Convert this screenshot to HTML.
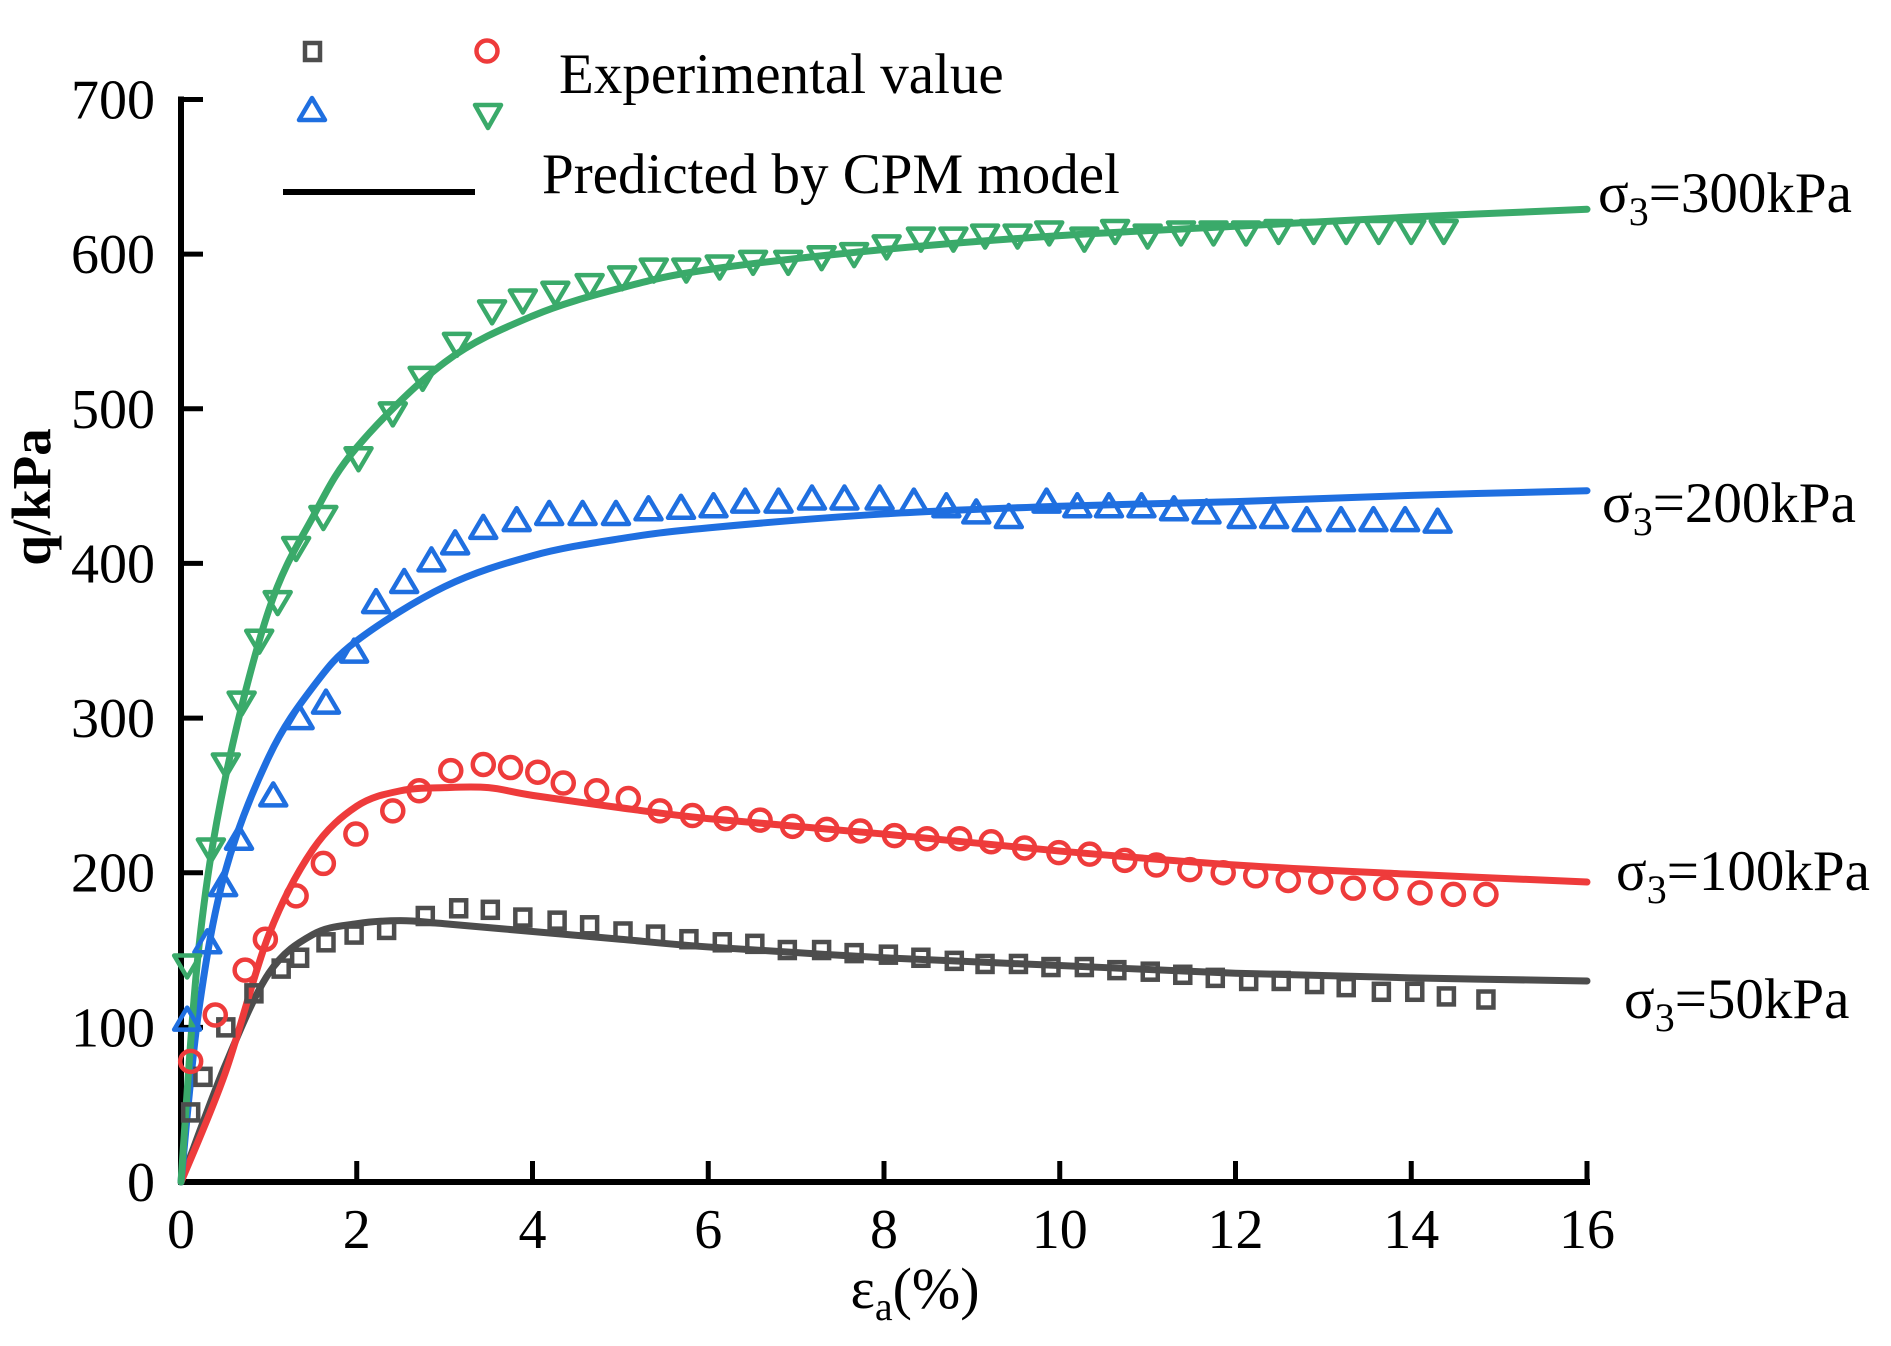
<!DOCTYPE html>
<html><head><meta charset="utf-8"><style>
html,body{margin:0;padding:0;background:#fff;}
svg{display:block;font-family:"Liberation Serif",serif;}
</style></head><body>
<svg id="chart" width="1891" height="1346" viewBox="0 0 1891 1346" xmlns="http://www.w3.org/2000/svg">
<g id="axes"></g>
<g id="series"></g>
<g id="legend">
  <rect x="305" y="43" width="15" height="17" fill="none" stroke="#4d4d4d" stroke-width="4.5"/>
  <ellipse cx="487" cy="51" rx="10.5" ry="10.5" fill="none" stroke="#ee3b3b" stroke-width="4.5"/>
  <path d="M312,98 L325,120 L299,120 Z" fill="none" stroke="#1f6fe0" stroke-width="4.5" stroke-linejoin="round"/>
  <path d="M475,105 L501,105 L488,128 Z" fill="none" stroke="#3aaa6a" stroke-width="4.5" stroke-linejoin="round"/>
  <text x="559" y="93" font-size="57">Experimental value</text>
  <line x1="283" y1="192" x2="475" y2="192" stroke="#000" stroke-width="6"/>
  <text x="542" y="193" font-size="57">Predicted by CPM model</text>
</g>
<g id="labels">
  <text x="1598" y="212" font-size="57">σ<tspan font-size="40" dy="13">3</tspan><tspan dy="-13">=300kPa</tspan></text>
  <text x="1602" y="522" font-size="57">σ<tspan font-size="40" dy="13">3</tspan><tspan dy="-13">=200kPa</tspan></text>
  <text x="1616" y="890" font-size="57">σ<tspan font-size="40" dy="13">3</tspan><tspan dy="-13">=100kPa</tspan></text>
  <text x="1624" y="1018" font-size="57">σ<tspan font-size="40" dy="13">3</tspan><tspan dy="-13">=50kPa</tspan></text>
</g>
</svg>
<script>
const xTicks=[0,2,4,6,8,10,12,14,16];
const yTicks=[0,100,200,300,400,500,600,700];
const g300x=[0.07,0.34,0.51,0.69,0.89,1.10,1.31,1.62,2.02,2.41,2.75,3.14,3.54,3.89,4.26,4.65,5.02,5.38,5.75,6.13,6.51,6.91,7.29,7.66,8.03,8.42,8.79,9.15,9.52,9.88,10.28,10.63,11.0,11.38,11.75,12.12,12.49,12.89,13.26,13.63,14.0,14.37];
const g300y=[140,215,270,310,350,375,410,430,468,497,520,542,563,570,575,580,585,590,590,592,595,595,598,600,605,610,610,612,612,614,610,615,612,614,614,614,615,615,615,615,615,615];
const g200x=[0.07,0.30,0.48,0.66,1.05,1.35,1.65,1.97,2.22,2.54,2.85,3.12,3.44,3.82,4.19,4.57,4.95,5.32,5.69,6.06,6.42,6.80,7.18,7.55,7.95,8.34,8.71,9.05,9.42,9.85,10.20,10.56,10.93,11.30,11.67,12.07,12.44,12.81,13.20,13.57,13.93,14.30];
const g200y=[105,155,192,222,250,300,310,343,375,388,402,413,423,428,432,432,432,435,436,437,440,440,442,442,442,440,437,433,430,440,437,437,437,435,433,430,430,428,428,428,428,427];
const g100x=[0.11,0.39,0.73,0.96,1.31,1.62,1.99,2.41,2.71,3.07,3.44,3.75,4.06,4.35,4.73,5.09,5.45,5.82,6.20,6.59,6.96,7.35,7.73,8.12,8.49,8.86,9.22,9.60,9.99,10.34,10.74,11.10,11.48,11.86,12.23,12.60,12.97,13.34,13.71,14.10,14.48,14.85];
const g100y=[78,108,137,157,185,206,225,240,253,266,270,268,265,258,253,248,240,237,235,234,230,228,227,224,222,222,220,216,213,212,208,205,202,200,198,195,194,190,190,187,186,186];
const g50x=[0.11,0.25,0.51,0.83,1.14,1.35,1.65,1.97,2.34,2.78,3.16,3.52,3.89,4.28,4.65,5.03,5.40,5.78,6.16,6.53,6.90,7.29,7.66,8.05,8.42,8.80,9.15,9.53,9.90,10.28,10.65,11.03,11.40,11.77,12.15,12.52,12.90,13.26,13.66,14.04,14.40,14.85];
const g50y=[45,68,100,122,138,145,155,160,163,172,177,176,171,169,166,162,160,157,155,154,150,150,148,147,145,143,141,141,139,139,137,136,134,132,130,130,128,126,123,123,120,118];
const m300x=[0,0.2,0.5,1,1.5,2,3,4,5,6,8,10,12,14,16];
const m300y=[0,150,260,370,430,475,530,560,578,590,603,612,618,624,629];
const m200x=[0,0.2,0.5,1,1.5,2,3,4,5,6,8,10,12,14,16];
const m200y=[0,110,200,275,320,350,385,405,416,423,432,437,440,444,447];
const m100x=[0,0.5,1,1.5,2,2.5,3,3.5,4,5,6,8,10,12,14,16];
const m100y=[0,70,160,215,243,253,255,255,250,242,235,225,214,205,199,194];
const m50x=[0,0.5,1,1.5,2,2.5,3,4,5,6,8,10,12,14,16];
const m50y=[0,75,135,160,167,169,167,162,157,152,145,140,135,132,130];

const NS='http://www.w3.org/2000/svg';
const X0=181,X1=1587,Y0=1182,Y1=99.5;
function sx(v){return X0+(v/16)*(X1-X0);}
function sy(v){return Y0-(v/700)*(Y0-Y1);}
function mk(tag,attrs,parent){const e=document.createElementNS(NS,tag);for(const k in attrs)e.setAttribute(k,attrs[k]);parent.appendChild(e);return e;}
const axes=document.getElementById('axes');
const series=document.getElementById('series');

let ya=mk('line',{x1:X0,y1:Y1-3,x2:X0,y2:Y0+3,stroke:'#000','stroke-width':6},axes);


let xa=mk('line',{x1:X0-3,y1:Y0,x2:X1+3,y2:Y0,stroke:'#000','stroke-width':6},axes);


yTicks.forEach(v=>{
  if(v>0){const t=mk('line',{x1:X0,y1:sy(v),x2:X0+22,y2:sy(v),stroke:'#000','stroke-width':5},axes);
  
  }
  const l=mk('text',{x:155,y:sy(v)+19,'font-size':56,'text-anchor':'end'},axes);
  l.textContent=v;
  
  
});
xTicks.forEach(v=>{
  if(v>0){const t=mk('line',{x1:sx(v),y1:Y0,x2:sx(v),y2:Y0-21,stroke:'#000','stroke-width':5},axes);
  
  }
  const l=mk('text',{x:sx(v),y:1248,'font-size':56,'text-anchor':'middle'},axes);
  l.textContent=v;
  
  
});
const xt=mk('text',{x:915,y:1308,'font-size':58,'text-anchor':'middle'},axes);
xt.innerHTML='ε<tspan font-size="40" dy="12">a</tspan><tspan dy="-12">(%)</tspan>';


const yt=mk('text',{x:0,y:0,'font-size':55,'font-weight':'bold','text-anchor':'middle',transform:'translate(50,497) rotate(-90)'},axes);
yt.textContent='q/kPa';



function spline(xs,ys){
  const p=xs.map((x,i)=>[sx(x),sy(ys[i])]);
  let d='M'+p[0][0]+','+p[0][1];
  for(let i=0;i<p.length-1;i++){
    const p0=p[Math.max(0,i-1)],p1=p[i],p2=p[i+1],p3=p[Math.min(p.length-1,i+2)];
    const c1=[p1[0]+(p2[0]-p0[0])/6,p1[1]+(p2[1]-p0[1])/6];
    const c2=[p2[0]-(p3[0]-p1[0])/6,p2[1]-(p3[1]-p1[1])/6];
    d+=' C'+c1+' '+c2+' '+p2;
  }
  return d;
}
const curves=[[m50x,m50y,'#4d4d4d','model-line-50kpa'],[m100x,m100y,'#ee3b3b','model-line-100kpa'],[m200x,m200y,'#1f6fe0','model-line-200kpa'],[m300x,m300y,'#3aaa6a','model-line-300kpa']];
curves.forEach(c=>{
  const p=mk('path',{d:spline(c[0],c[1]),fill:'none',stroke:c[2],'stroke-width':7,'stroke-linecap':'round'},series);
  
  
});
function marker(shape,x,y,col,name){
  let e;
  if(shape==='sq') e=mk('rect',{x:x-7.5,y:y-8,width:15,height:16,fill:'none',stroke:col,'stroke-width':4.5},series);
  else if(shape==='ci') e=mk('ellipse',{cx:x,cy:y,rx:10.5,ry:10.5,fill:'none',stroke:col,'stroke-width':4.5},series);
  else if(shape==='up') e=mk('path',{d:`M${x},${y-12} L${x+13},${y+10} L${x-13},${y+10} Z`,fill:'none',stroke:col,'stroke-width':4.5,'stroke-linejoin':'round'},series);
  else e=mk('path',{d:`M${x-13},${y-10} L${x+13},${y-10} L${x},${y+12} Z`,fill:'none',stroke:col,'stroke-width':4.5,'stroke-linejoin':'round'},series);
  
  
}
g50x.forEach((x,i)=>marker('sq',sx(x),sy(g50y[i]),'#4d4d4d','point-50kpa'));
g100x.forEach((x,i)=>marker('ci',sx(x),sy(g100y[i]),'#ee3b3b','point-100kpa'));
g200x.forEach((x,i)=>marker('up',sx(x),sy(g200y[i]),'#1f6fe0','point-200kpa'));
g300x.forEach((x,i)=>marker('dn',sx(x),sy(g300y[i]),'#3aaa6a','point-300kpa'));
</script>
</body></html>
